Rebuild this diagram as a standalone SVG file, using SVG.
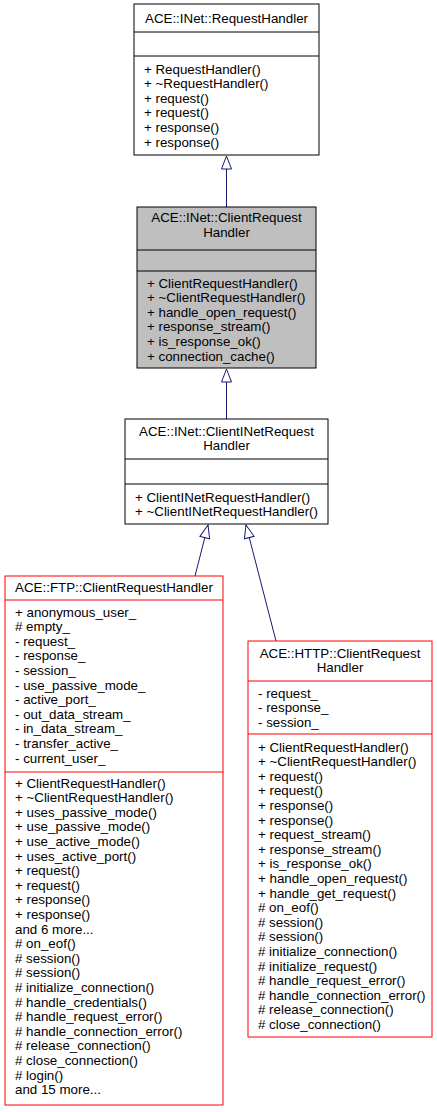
<svg xmlns="http://www.w3.org/2000/svg" width="437" height="1112" viewBox="0 0 437 1112">
<style>
  text { font-family: "Liberation Sans", Arial, Helvetica, sans-serif; font-size: 13.33px; fill: #000; }
  .t { text-anchor: middle; }
  .box { fill: #fff; stroke: #000; stroke-width: 1; }
  .cur { fill: #bfbfbf; stroke: #000; stroke-width: 1; }
  .red { fill: #fff; stroke: #ff0000; stroke-width: 1; }
  .sep { stroke: #000; stroke-width: 1; }
  .rsep { stroke: #ff0000; stroke-width: 1; }
  .edge { fill: none; stroke: #191970; stroke-width: 1; }
</style>
<defs>
  <marker id="inh" markerUnits="userSpaceOnUse" viewBox="-1 -1 15 12" refX="13" refY="5" markerWidth="15" markerHeight="12" orient="auto" overflow="visible">
    <path d="M0,0 L13,5 L0,10 Z" fill="#fff" stroke="#191970" stroke-width="1"/>
  </marker>
</defs>

<g id="connectors">
  <path class="edge" d="M226.5,207 L226.5,156" marker-end="url(#inh)"/>
  <path class="edge" d="M226.5,419 L226.5,369" marker-end="url(#inh)"/>
  <path class="edge" d="M195,576 L208,525" marker-end="url(#inh)"/>
  <path class="edge" d="M276,641 L246,525" marker-end="url(#inh)"/>
</g>

<g id="node-RequestHandler">
  <rect class="box" x="134" y="4" width="185" height="151"/>
  <line class="sep" x1="134" y1="32" x2="319" y2="32"/>
  <line class="sep" x1="134" y1="56" x2="319" y2="56"/>
  <text class="t" x="226.5" y="22.5">ACE::INet::RequestHandler</text>
  <text x="144" y="73.5">+ RequestHandler()</text>
  <text x="144" y="88.1">+ ~RequestHandler()</text>
  <text x="144" y="102.7">+ request()</text>
  <text x="144" y="117.3">+ request()</text>
  <text x="144" y="131.9">+ response()</text>
  <text x="144" y="146.5">+ response()</text>
</g>

<g id="node-ClientRequestHandler">
  <rect class="cur" x="137" y="207" width="179" height="161"/>
  <line class="sep" x1="137" y1="250" x2="316" y2="250"/>
  <line class="sep" x1="137" y1="271" x2="316" y2="271"/>
  <text class="t" x="226.5" y="222">ACE::INet::ClientRequest</text>
  <text class="t" x="226.5" y="236.6">Handler</text>
  <text x="147" y="287.5">+ ClientRequestHandler()</text>
  <text x="147" y="302.1">+ ~ClientRequestHandler()</text>
  <text x="147" y="316.7">+ handle_open_request()</text>
  <text x="147" y="331.3">+ response_stream()</text>
  <text x="147" y="345.9">+ is_response_ok()</text>
  <text x="147" y="360.5">+ connection_cache()</text>
</g>

<g id="node-ClientINetRequestHandler">
  <rect class="box" x="125" y="419" width="203" height="105"/>
  <line class="sep" x1="125" y1="459" x2="328" y2="459"/>
  <line class="sep" x1="125" y1="484" x2="328" y2="484"/>
  <text class="t" x="226.5" y="435.5">ACE::INet::ClientINetRequest</text>
  <text class="t" x="226.5" y="450.1">Handler</text>
  <text x="135" y="501.5">+ ClientINetRequestHandler()</text>
  <text x="135" y="516.1">+ ~ClientINetRequestHandler()</text>
</g>

<g id="node-FTPClientRequestHandler">
  <rect class="red" x="5" y="576" width="218" height="529"/>
  <line class="rsep" x1="5" y1="600" x2="223" y2="600"/>
  <line class="rsep" x1="5" y1="772" x2="223" y2="772"/>
  <text class="t" x="114" y="591.5">ACE::FTP::ClientRequestHandler</text>
  <text x="15" y="616.5">+ anonymous_user_</text>
  <text x="15" y="631.1"># empty_</text>
  <text x="15" y="645.7">- request_</text>
  <text x="15" y="660.3">- response_</text>
  <text x="15" y="674.9">- session_</text>
  <text x="15" y="689.5">- use_passive_mode_</text>
  <text x="15" y="704.1">- active_port_</text>
  <text x="15" y="718.7">- out_data_stream_</text>
  <text x="15" y="733.3">- in_data_stream_</text>
  <text x="15" y="747.9">- transfer_active_</text>
  <text x="15" y="762.5">- current_user_</text>
  <text x="15" y="787.5">+ ClientRequestHandler()</text>
  <text x="15" y="802.1">+ ~ClientRequestHandler()</text>
  <text x="15" y="816.7">+ uses_passive_mode()</text>
  <text x="15" y="831.3">+ use_passive_mode()</text>
  <text x="15" y="845.9">+ use_active_mode()</text>
  <text x="15" y="860.5">+ uses_active_port()</text>
  <text x="15" y="875.1">+ request()</text>
  <text x="15" y="889.7">+ request()</text>
  <text x="15" y="904.3">+ response()</text>
  <text x="15" y="918.9">+ response()</text>
  <text x="15" y="933.5">and 6 more...</text>
  <text x="15" y="948.1"># on_eof()</text>
  <text x="15" y="962.7"># session()</text>
  <text x="15" y="977.3"># session()</text>
  <text x="15" y="991.9"># initialize_connection()</text>
  <text x="15" y="1006.5"># handle_credentials()</text>
  <text x="15" y="1021.1"># handle_request_error()</text>
  <text x="15" y="1035.7"># handle_connection_error()</text>
  <text x="15" y="1050.3"># release_connection()</text>
  <text x="15" y="1064.9"># close_connection()</text>
  <text x="15" y="1079.5"># login()</text>
  <text x="15" y="1094.1">and 15 more...</text>
</g>

<g id="node-HTTPClientRequestHandler">
  <rect class="red" x="248" y="641" width="184" height="396"/>
  <line class="rsep" x1="248" y1="681" x2="432" y2="681"/>
  <line class="rsep" x1="248" y1="734" x2="432" y2="734"/>
  <text class="t" x="340" y="657.5">ACE::HTTP::ClientRequest</text>
  <text class="t" x="340" y="672.1">Handler</text>
  <text x="258" y="697.5">- request_</text>
  <text x="258" y="712.1">- response_</text>
  <text x="258" y="726.7">- session_</text>
  <text x="258" y="751.5">+ ClientRequestHandler()</text>
  <text x="258" y="766.1">+ ~ClientRequestHandler()</text>
  <text x="258" y="780.7">+ request()</text>
  <text x="258" y="795.3">+ request()</text>
  <text x="258" y="809.9">+ response()</text>
  <text x="258" y="824.5">+ response()</text>
  <text x="258" y="839.1">+ request_stream()</text>
  <text x="258" y="853.7">+ response_stream()</text>
  <text x="258" y="868.3">+ is_response_ok()</text>
  <text x="258" y="882.9">+ handle_open_request()</text>
  <text x="258" y="897.5">+ handle_get_request()</text>
  <text x="258" y="912.1"># on_eof()</text>
  <text x="258" y="926.7"># session()</text>
  <text x="258" y="941.3"># session()</text>
  <text x="258" y="955.9"># initialize_connection()</text>
  <text x="258" y="970.5"># initialize_request()</text>
  <text x="258" y="985.1"># handle_request_error()</text>
  <text x="258" y="999.7"># handle_connection_error()</text>
  <text x="258" y="1014.3"># release_connection()</text>
  <text x="258" y="1028.9"># close_connection()</text>
</g>
</svg>
